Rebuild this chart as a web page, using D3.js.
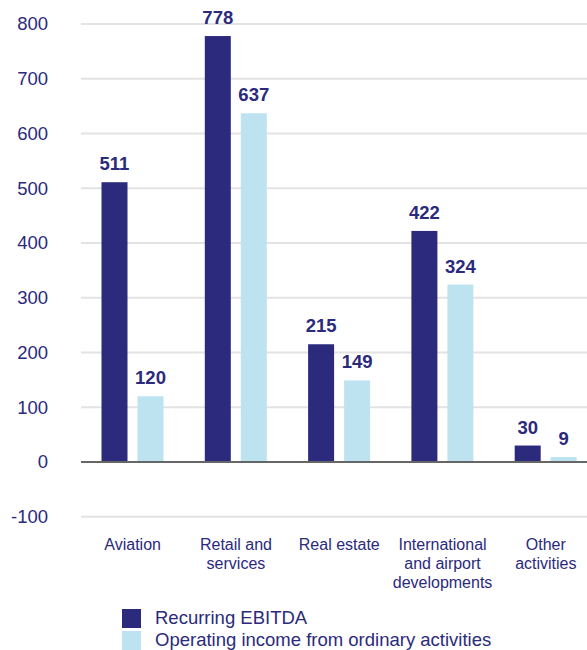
<!DOCTYPE html>
<html>
<head>
<meta charset="utf-8">
<script src="https://cdn.jsdelivr.net/npm/d3@7"></script>
<style>
  body { margin: 0; background: #fff; }
  svg { font-family: "Liberation Sans", Arial, sans-serif; }
</style>
</head>
<body>
<svg id="chart" width="587" height="650"></svg>
<script>
// data
var categories = [["Aviation"], ["Retail and", "services"], ["Real estate"],
    ["International", "and airport", "developments"], ["Other", "activities"]];
var seriesNames = ["Recurring EBITDA", "Operating income from ordinary activities"];
var ebitda = [511, 778, 215, 422, 30];
var operating = [120, 637, 149, 324, 9];
var yTicks = [-100, 0, 100, 200, 300, 400, 500, 600, 700, 800];

var colors = ["#2b2a7c", "#bde3f1"];
var textColor = "#2b2a7c";

var svg = d3.select("#chart");

var x0 = d3.scaleBand()
    .domain(d3.range(categories.length))
    .range([81, 81 + 5 * 103.3]);

var x1 = d3.scaleBand()
    .domain([0, 1])
    .range([20.5, 82.5])
    .paddingInner(10 / 36);

var y = d3.scaleLinear()
    .domain([-100, 800])
    .range([516.7, 24]);

// gridlines
svg.append("g")
    .selectAll("line")
    .data(yTicks.filter(function(d) { return d !== 0; }))
    .enter().append("line")
    .attr("x1", 81).attr("x2", 587)
    .attr("y1", function(d) { return y(d); })
    .attr("y2", function(d) { return y(d); })
    .attr("stroke", "#e3e3e3")
    .attr("stroke-width", 2);

// y axis labels (plain hyphen for -100, like the original)
var yAxis = svg.append("g")
    .attr("transform", "translate(48,0)")
    .call(d3.axisLeft(y).tickValues(yTicks).tickSize(0).tickPadding(0)
        .tickFormat(function(d) { return String(d); }));
yAxis.select(".domain").remove();
yAxis.selectAll("text")
    .attr("font-size", 18.5)
    .attr("font-family", "Liberation Sans, Arial, sans-serif")
    .attr("fill", textColor);

// bars
var rows = categories.map(function(c, i) { return [ebitda[i], operating[i]]; });

var groups = svg.append("g")
    .selectAll("g")
    .data(rows)
    .enter().append("g")
    .attr("transform", function(d, i) { return "translate(" + x0(i) + ",0)"; });

groups.selectAll("rect")
    .data(function(d) { return d; })
    .enter().append("rect")
    .attr("x", function(d, j) { return x1(j); })
    .attr("y", function(d) { return y(Math.max(0, d)); })
    .attr("width", x1.bandwidth())
    .attr("height", function(d) { return Math.abs(y(d) - y(0)); })
    .attr("fill", function(d, j) { return colors[j]; });

groups.selectAll("text.val")
    .data(function(d) { return d; })
    .enter().append("text")
    .attr("class", "val")
    .attr("x", function(d, j) { return x1(j) + x1.bandwidth() / 2; })
    .attr("y", function(d) { return y(d) - 12; })
    .attr("text-anchor", "middle")
    .attr("font-size", 18.5)
    .attr("font-weight", "bold")
    .attr("fill", textColor)
    .text(function(d) { return d; });

// zero line
svg.append("line")
    .attr("x1", 81).attr("x2", 587)
    .attr("y1", y(0)).attr("y2", y(0))
    .attr("stroke", "#666")
    .attr("stroke-width", 2);

// category labels
svg.append("g")
    .selectAll("text")
    .data(categories)
    .enter().append("text")
    .attr("x", function(d, i) { return x0(i) + x0.bandwidth() / 2; })
    .attr("y", 550)
    .attr("text-anchor", "middle")
    .attr("font-size", 16)
    .attr("fill", textColor)
    .each(function(lines) {
        d3.select(this).selectAll("tspan")
            .data(lines)
            .enter().append("tspan")
            .attr("x", d3.select(this).attr("x"))
            .attr("dy", function(d, k) { return k === 0 ? 0 : 18.8; })
            .text(function(d) { return d; });
    });

// legend
var legend = svg.append("g")
    .selectAll("g")
    .data(seriesNames)
    .enter().append("g")
    .attr("transform", function(d, i) { return "translate(122," + (609 + i * 22) + ")"; });

legend.append("rect")
    .attr("width", 19).attr("height", 19)
    .attr("fill", function(d, i) { return colors[i]; });

legend.append("text")
    .attr("x", 33).attr("y", 15)
    .attr("font-size", 18.5)
    .attr("fill", textColor)
    .text(function(d) { return d; });
</script>
</body>
</html>
